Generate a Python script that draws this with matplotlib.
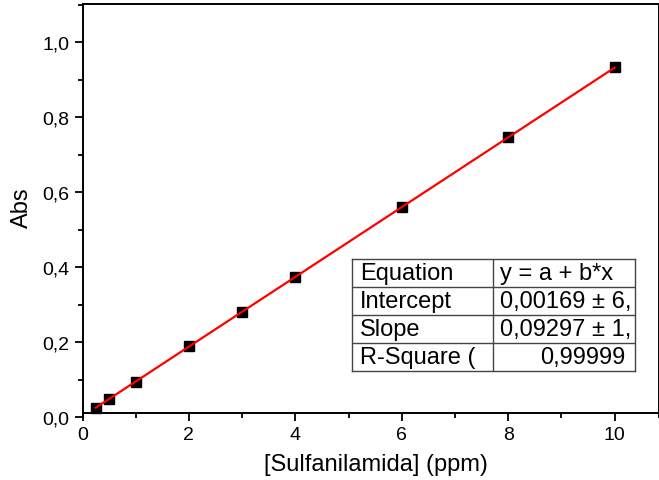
import matplotlib
matplotlib.use('Agg')
import matplotlib.pyplot as plt
from matplotlib.ticker import MultipleLocator, FuncFormatter
import numpy as np

plt.rcParams['font.family'] = ['Liberation Sans', 'DejaVu Sans']

# calibration data
conc = [0.25, 0.5, 1, 2, 3, 4, 6, 8, 10]
absorb = [0.024, 0.047, 0.094, 0.189, 0.281, 0.373, 0.559, 0.746, 0.933]

# linear fit values shown in the table
intercept = 0.00169
slope = 0.09297

table_rows = [
    ['Equation', 'y = a + b*x'],
    ['Intercept', '0,00169 ± 6,'],
    ['Slope', '0,09297 ± 1,'],
    ['R-Square (', '0,99999'],
]

fig = plt.figure(figsize=(6.59, 4.81), dpi=100)
W, H = 659, 481
x0, y0 = 82.5, 418
px_x, px_y = 53.2, 375
xmax, ymax = 10.84, 1.102
ax = fig.add_axes([x0 / W, (H - y0) / H, xmax * px_x / W, ymax * px_y / H])

ax.plot(conc, absorb, 's', color='black', markersize=7.5, zorder=3)
xfit = np.array([conc[0], conc[-1]])
ax.plot(xfit, intercept + slope * xfit, color='red', lw=1.6, zorder=4)

ax.set_xlim(0, xmax)
ax.set_ylim(0, ymax)
ax.spines['bottom'].set_position(('data', 0.011))
for s in ax.spines.values():
    s.set_linewidth(1.4)

ax.xaxis.set_major_locator(MultipleLocator(2))
ax.xaxis.set_minor_locator(MultipleLocator(1))
ax.yaxis.set_major_locator(MultipleLocator(0.2))
ax.yaxis.set_minor_locator(MultipleLocator(0.1))
ax.yaxis.set_major_formatter(FuncFormatter(lambda v, p: f'{v:.1f}'.replace('.', ',')))
ax.xaxis.set_major_formatter(FuncFormatter(lambda v, p: f'{v:.0f}'))
ax.tick_params(which='major', direction='out', length=6, width=1.3, labelsize=14)
ax.tick_params(which='minor', direction='out', length=3.5, width=1.3)

fig.text(376 / W, 1 - 465 / H, '[Sulfanilamida] (ppm)', ha='center', va='center', fontsize=17)
fig.text(22 / W, 1 - 208 / H, 'Abs', ha='center', va='center', rotation=90, fontsize=17)

# results table
tx0, tx1, tmid = 352, 635, 493
ty0, ty1 = 260, 372
rh = (ty1 - ty0) / len(table_rows)
tab_ax = fig.add_axes([tx0 / W, 1 - ty1 / H, (tx1 - tx0) / W, (ty1 - ty0) / H])
tab_ax.set_xlim(tx0, tx1)
tab_ax.set_ylim(ty1, ty0)
tab_ax.set_facecolor('white')
tab_ax.set_xticks([])
tab_ax.set_yticks([])
for s in tab_ax.spines.values():
    s.set_linewidth(1.0)
    s.set_color('#444444')
tab_ax.axvline(tmid, color='#444444', lw=1.0)
for i, (name, val) in enumerate(table_rows):
    yc = ty0 + rh * (i + 0.5)
    if i > 0:
        tab_ax.axhline(ty0 + rh * i, color='#444444', lw=1.0)
    tab_ax.text(tx0 + 8, yc, name, ha='left', va='center', fontsize=17)
    if i == len(table_rows) - 1:
        tab_ax.text(tx1 - 10, yc, val, ha='right', va='center', fontsize=17)
    else:
        tab_ax.text(tmid + 7, yc, val, ha='left', va='center', fontsize=17)

fig.savefig('out.png', dpi=100)
